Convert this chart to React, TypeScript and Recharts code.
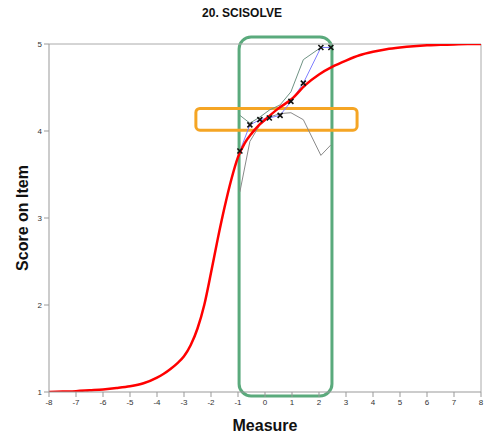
import React from "react";
import {
  ComposedChart,
  Line,
  XAxis,
  YAxis,
  ReferenceLine,
  ReferenceArea,
  Label,
} from "recharts";

const title = "20. SCISOLVE";
const xLabel = "Measure";
const yLabel = "Score on Item";

const xTicks = [-8, -7, -6, -5, -4, -3, -2, -1, 0, 1, 2, 3, 4, 5, 6, 7, 8];
const yTicks = [1, 2, 3, 4, 5];

// Model expected-score curve (red)
const curveX = [-8, -7.5, -7, -6.5, -6, -5.5, -5, -4.5, -4, -3.75, -3.5, -3.25, -3, -2.75, -2.5, -2.25, -2, -1.75, -1.5, -1.25, -1, -0.75, -0.5, -0.25, 0, 0.5, 1, 1.5, 2, 2.5, 3, 3.5, 4, 4.5, 5, 5.5, 6, 6.5, 7, 7.5, 8];
const curveY = [1.0, 1.005, 1.01, 1.02, 1.03, 1.045, 1.065, 1.1, 1.165, 1.21, 1.265, 1.33, 1.41, 1.54, 1.73, 2.0, 2.37, 2.76, 3.12, 3.44, 3.7, 3.86, 3.97, 4.06, 4.13, 4.26, 4.37, 4.53, 4.65, 4.74, 4.81, 4.87, 4.91, 4.94, 4.96, 4.975, 4.985, 4.99, 4.995, 5.0, 5.0];

// Empirical observed scores
const empX = [-0.93, -0.56, -0.19, 0.16, 0.56, 0.96, 1.42, 2.07, 2.44];
const empY = [3.77, 4.07, 4.13, 4.15, 4.18, 4.34, 4.55, 4.96, 4.96];
const upperY = [4.18, 4.09, 4.16, 4.24, 4.3, 4.45, 4.82, 4.96, 4.96];
const lowerY = [3.3, 3.88, 4.07, 4.16, 4.2, 4.21, 4.13, 3.72, 3.84];

const curveData = curveX.map((x, i) => ({ x, y: curveY[i] }));
const empData = empX.map((x, i) => ({ x, y: empY[i] }));
const upperData = empX.map((x, i) => ({ x, y: upperY[i] }));
const lowerData = empX.map((x, i) => ({ x, y: lowerY[i] }));

// Annotation boxes (in data units)
const greenBox = { x1: -0.96, x2: 2.48, y1: 0.955, y2: 5.08 };
const orangeBox = { x1: -2.56, x2: 3.41, y1: 4.01, y2: 4.26 };

const makeBox = (color: string, r: number) => (p: any) => (
  <rect
    x={p.x}
    y={p.y}
    width={p.width}
    height={p.height}
    rx={r}
    ry={r}
    fill="none"
    stroke={color}
    strokeWidth={3}
  />
);

const CrossDot = (props: any) => {
  const { cx, cy, index } = props;
  if (cx == null || cy == null) return <g key={`d${index}`} />;
  const s = 2.5;
  return (
    <path
      key={`d${index}`}
      d={`M${cx - s},${cy - s}L${cx + s},${cy + s}M${cx - s},${cy + s}L${cx + s},${cy - s}`}
      stroke="#111"
      strokeWidth={1.6}
      fill="none"
    />
  );
};

const YLabelContent = () => (
  <text
    x={22}
    y={218}
    transform="rotate(-90, 22, 218)"
    textAnchor="middle"
    dominantBaseline="central"
    fontFamily="Liberation Sans, Arial, sans-serif"
    fontWeight="bold"
    fontSize={16}
    fill="#111"
  >
    {yLabel}
  </text>
);

export default function App() {
  const font = "Liberation Sans, Arial, sans-serif";
  return (
    <div style={{ position: "absolute", left: 0, top: 0, width: 489, height: 436, background: "#fff" }}>
      <div
        style={{
          position: "absolute",
          left: 0,
          width: 484,
          top: 6,
          lineHeight: "14px",
          textAlign: "center",
          fontFamily: font,
          fontWeight: "bold",
          fontSize: 12,
          color: "#111",
        }}
      >
        {title}
      </div>
      <ComposedChart
        width={489}
        height={436}
        margin={{ top: 44, right: 8, bottom: 0, left: 0 }}
      >
        <XAxis
          type="number"
          dataKey="x"
          domain={[-8, 8]}
          ticks={xTicks}
          allowDataOverflow
          stroke="#999"
          tickSize={5}
          tick={{ fontSize: 8, fill: "#333", fontFamily: font }}
          height={44}
        >
          <Label
            value={xLabel}
            position="insideBottom"
            offset={5}
            style={{ fontSize: 16, fontWeight: "bold", fill: "#111", fontFamily: font }}
          />
        </XAxis>
        <YAxis
          type="number"
          dataKey="y"
          domain={[1, 5]}
          ticks={yTicks}
          allowDataOverflow
          stroke="#999"
          tickSize={5}
          width={49}
          tick={{ fontSize: 8, fill: "#333", fontFamily: font }}
        >
          <Label content={YLabelContent} />
        </YAxis>
        <ReferenceLine y={5} stroke="#aaa" strokeWidth={1} />
        <ReferenceLine x={8} stroke="#aaa" strokeWidth={1} />
        <Line
          data={upperData}
          dataKey="y"
          type="linear"
          stroke="#6f9384"
          strokeWidth={1}
          dot={false}
          isAnimationActive={false}
        />
        <Line
          data={lowerData}
          dataKey="y"
          type="linear"
          stroke="#8a8a8a"
          strokeWidth={1}
          dot={false}
          isAnimationActive={false}
        />
        <Line
          data={empData}
          dataKey="y"
          type="linear"
          stroke="#7f7fff"
          strokeWidth={1}
          dot={false}
          isAnimationActive={false}
        />
        <Line
          data={curveData}
          dataKey="y"
          type="monotone"
          stroke="#ff0000"
          strokeWidth={2.5}
          dot={false}
          isAnimationActive={false}
        />
        <Line
          data={empData}
          dataKey="y"
          type="linear"
          stroke="none"
          dot={CrossDot}
          activeDot={false}
          isAnimationActive={false}
        />
        <ReferenceArea
          {...greenBox}
          ifOverflow="visible"
          shape={makeBox("#5aaa7c", 12)}
        />
        <ReferenceArea
          {...orangeBox}
          ifOverflow="visible"
          shape={makeBox("#f5a524", 4)}
        />
      </ComposedChart>
    </div>
  );
}
